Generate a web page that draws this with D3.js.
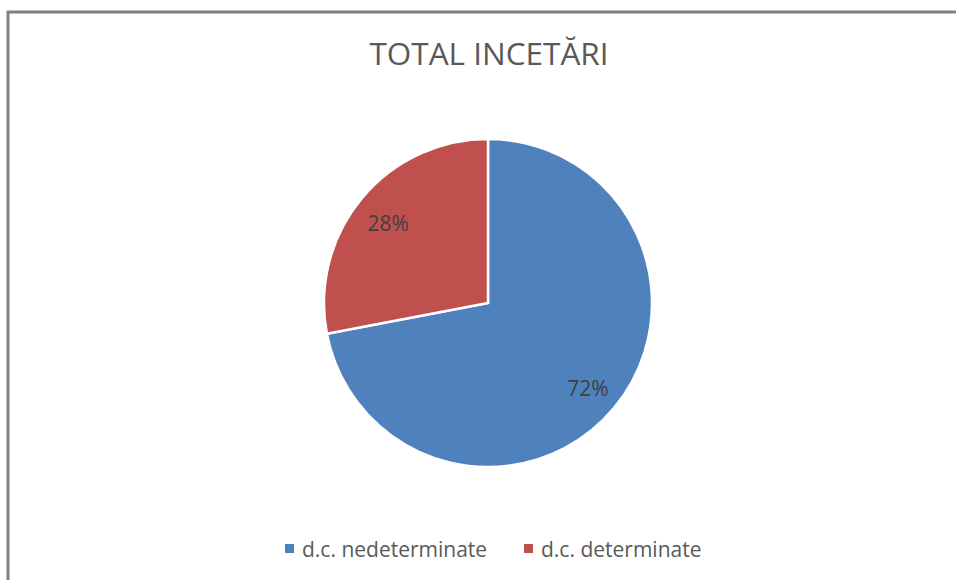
<!DOCTYPE html>
<html>
<head>
<meta charset="utf-8">
<script src="https://cdn.jsdelivr.net/npm/d3@7"></script>
<style>
  body { margin: 0; background: #fff; }
  svg { display: block; font-family: "Open Sans", sans-serif; }
</style>
</head>
<body>
<svg id="chart" width="956" height="580"></svg>
<script>
// values
const categories = ["d.c. nedeterminate", "d.c. determinate"];
const values = [72, 28];
const colours = ["#4f81bd", "#c0504d"];
const title = "TOTAL INCETĂRI";

const svg = d3.select("#chart");
const width = 956, height = 580;

// chart frame, only left and top edge show in the picture
svg.append("rect")
  .attr("x", 8).attr("y", 12)
  .attr("width", width + 20).attr("height", height + 20)
  .attr("fill", "#fff")
  .attr("stroke", "#808080")
  .attr("stroke-width", 3);

svg.append("text")
  .attr("x", 489).attr("y", 65)
  .attr("text-anchor", "middle")
  .attr("font-size", 31.5)
  .attr("fill", "#595959")
  .text(title);

const cx = 488, cy = 303, r = 164;

const pie = d3.pie().sort(null).value(d => d);
const arcs = pie(values);
const arc = d3.arc().innerRadius(0).outerRadius(r);
const labelArc = d3.arc().innerRadius(r * 0.79).outerRadius(r * 0.79);

const g = svg.append("g").attr("transform", `translate(${cx},${cy})`);

g.selectAll("path")
  .data(arcs)
  .join("path")
  .attr("d", arc)
  .attr("fill", (d, i) => colours[i])
  .attr("stroke", "#fff")
  .attr("stroke-width", 2.5)
  .attr("stroke-linejoin", "miter");

g.selectAll("text.lbl")
  .data(arcs)
  .join("text")
  .attr("class", "lbl")
  .attr("transform", d => {
    const c = labelArc.centroid(d);
    // label sits in the slice like excel does
    return `translate(${c[0]},${c[1] + 3})`;
  })
  .attr("text-anchor", "middle")
  .attr("dy", "0.35em")
  .attr("font-size", 21)
  .attr("fill", "#404040")
  .text(d => d.data + "%");

// legend
const legendX = [285, 524];
const legend = svg.append("g");
categories.forEach((name, i) => {
  legend.append("rect")
    .attr("x", legendX[i]).attr("y", 544)
    .attr("width", 9).attr("height", 9)
    .attr("fill", colours[i]);
  legend.append("text")
    .attr("x", legendX[i] + 17).attr("y", 557)
    .attr("font-size", 21)
    .attr("fill", "#595959")
    .text(name);
});
</script>
</body>
</html>
